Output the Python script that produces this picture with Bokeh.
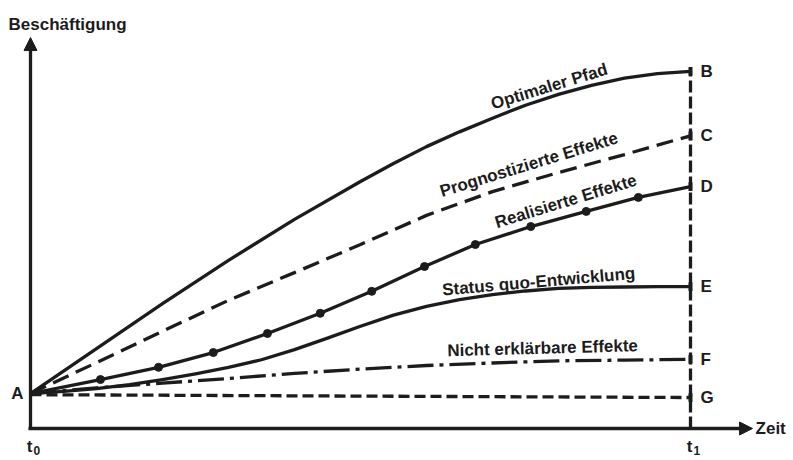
from bokeh.plotting import figure
from bokeh.models import Range1d, Arrow, NormalHead, Label
from bokeh.embed import file_html
from bokeh.resources import INLINE
import math

# ---- data (time: t0 = 0 ... t1 = 10, employment in arbitrary units) ----
t_opt = [0, 1, 2, 3, 4, 5, 5.5, 6, 6.5, 7, 7.5, 8, 8.5, 9, 9.5, 10]
optimal = [9.7, 22.2, 34.7, 46.7, 58.1, 68.6, 73.6, 78.3, 82.4, 86.2, 89.8, 92.8, 95.3, 97.3, 98.6, 99.2]
t_grid = [0, 1, 2, 3, 4, 5, 6, 7, 8, 9, 10]
prognosed = [9.7, 18.3, 27.0, 35.6, 43.3, 51.1, 59.2, 65.8, 71.1, 76.1, 81.3]
unexplained = [9.7, 11.3, 12.6, 13.9, 15.3, 16.5, 17.5, 18.2, 18.8, 19.0, 19.2]
t_half = [0, 0.5, 1, 1.5, 2, 2.5, 3, 3.5, 4, 4.5, 5, 5.5, 6, 6.5, 7, 7.5, 8, 8.5, 9, 9.5, 10]
status_quo = [9.7, 10.3, 11.1, 12.2, 13.6, 15.2, 17.0, 19.1, 21.9, 25.1, 28.4, 31.5, 33.9,
              35.8, 37.2, 38.2, 38.9, 39.2, 39.3, 39.4, 39.4]
t_realized = [0, 1.06, 1.94, 2.77, 3.59, 4.39, 5.17, 5.97, 6.74, 7.58, 8.42, 9.21, 10]
realized = [9.7, 13.6, 17.0, 21.1, 26.4, 32.0, 38.1, 45.0, 51.1, 56.1, 60.3, 64.2, 67.2]
t_baseline = [0, 10]
baseline = [9.4, 8.6]

end_letters = ["B", "C", "D", "E", "F", "G"]
curve_labels = ["Optimaler Pfad", "Prognostizierte Effekte", "Realisierte Effekte",
                "Status quo-Entwicklung", "Nicht erklärbare Effekte"]
y_title = "Beschäftigung"
x_title = "Zeit"
start_letter = "A"

T0, T1 = 0, 10
INK = "#1c1c1c"
FONT = "Liberation Sans"
LW = 3.3

W, H = 793, 460
p = figure(width=W, height=H,
           x_range=Range1d(-30 / 66, (W - 30) / 66), y_range=Range1d((428 - H) / 3.6, 428 / 3.6),
           output_backend="svg", toolbar_location=None,
           x_axis_type=None, y_axis_type=None, min_border=0)
p.outline_line_color = None
p.background_fill_color = "white"
p.border_fill_color = "white"

# axes with arrows
y_top = 108.6
x_right = 10.94
p.add_layout(Arrow(end=NormalHead(size=13, fill_color=INK, line_color=INK),
                   x_start=T0, y_start=-0.4, x_end=T0, y_end=y_top,
                   line_width=LW, line_color=INK))
p.add_layout(Arrow(end=NormalHead(size=13, fill_color=INK, line_color=INK),
                   x_start=T0 - 0.03, y_start=0, x_end=x_right, y_end=0,
                   line_width=LW, line_color=INK))

# vertical dashed line at t1
p.line([T1, T1], [0, optimal[-1]], line_width=LW, line_color=INK, line_dash="12 4")

# curves
p.line(t_opt, optimal, line_width=LW, line_color=INK, line_join="round")
p.line(t_grid, prognosed, line_width=LW, line_color=INK, line_dash="17 8")
p.line(t_realized, realized, line_width=LW, line_color=INK, line_join="round")
p.scatter(t_realized[1:-1], realized[1:-1], marker="circle", size=8,
          fill_color=INK, line_color=INK)
p.line(t_half, status_quo, line_width=LW, line_color=INK, line_join="round")
p.line(t_grid, unexplained, line_width=LW, line_color=INK, line_dash="26 6 4 6")
p.line(t_baseline, baseline, line_width=LW, line_color=INK, line_dash="11 5")

# end ticks and letters
end_vals = [optimal[-1], prognosed[-1], realized[-1], status_quo[-1], unexplained[-1], baseline[-1]]
tick_half = 1.2
p.segment(x0=[T1] * 6, y0=[v - tick_half for v in end_vals],
          x1=[T1] * 6, y1=[v + tick_half for v in end_vals],
          line_width=4, line_color=INK)
for letter, v in zip(end_letters, end_vals):
    p.add_layout(Label(x=T1, y=v, text=letter, x_offset=10, text_align="left",
                       text_baseline="middle", text_font=FONT, text_font_style="bold",
                       text_font_size="17px", text_color=INK))

p.add_layout(Label(x=T0, y=realized[0], text=start_letter, x_offset=-7, text_align="right",
                   text_baseline="middle", text_font=FONT, text_font_style="bold",
                   text_font_size="17px", text_color=INK))

# curve labels
label_pos = [(7.86, 95.0, 17), (7.55, 73.3, 17), (8.11, 63.1, 17), (7.70, 40.8, 5), (7.76, 22.3, 1.5)]
for txt, (lx, ly, ang) in zip(curve_labels, label_pos):
    p.add_layout(Label(x=lx, y=ly, text=txt, angle=math.radians(ang), text_align="center",
                       text_baseline="middle", text_font=FONT, text_font_style="bold",
                       text_font_size="17px", text_color=INK))

# axis titles
p.add_layout(Label(x=T0, y=112.2, text=y_title, x_offset=-22, text_align="left",
                   text_baseline="alphabetic", text_font=FONT, text_font_style="bold",
                   text_font_size="17px", text_color=INK))
p.add_layout(Label(x=x_right, y=0, text=x_title, x_offset=3, text_align="left",
                   text_baseline="middle", text_font=FONT, text_font_style="bold",
                   text_font_size="17px", text_color=INK))

# t0 / t1
for tx, sub in [(T0, "0"), (T1, "1")]:
    p.add_layout(Label(x=tx, y=0, text="t", x_offset=-1, y_offset=-18, text_align="center",
                       text_baseline="alphabetic", text_font=FONT, text_font_style="bold",
                       text_font_size="17px", text_color=INK))
    p.add_layout(Label(x=tx, y=0, text=sub, x_offset=3, y_offset=-22, text_align="left",
                       text_baseline="alphabetic", text_font=FONT, text_font_style="bold",
                       text_font_size="12px", text_color=INK))

open("out.html", "w").write(file_html(p, INLINE))
